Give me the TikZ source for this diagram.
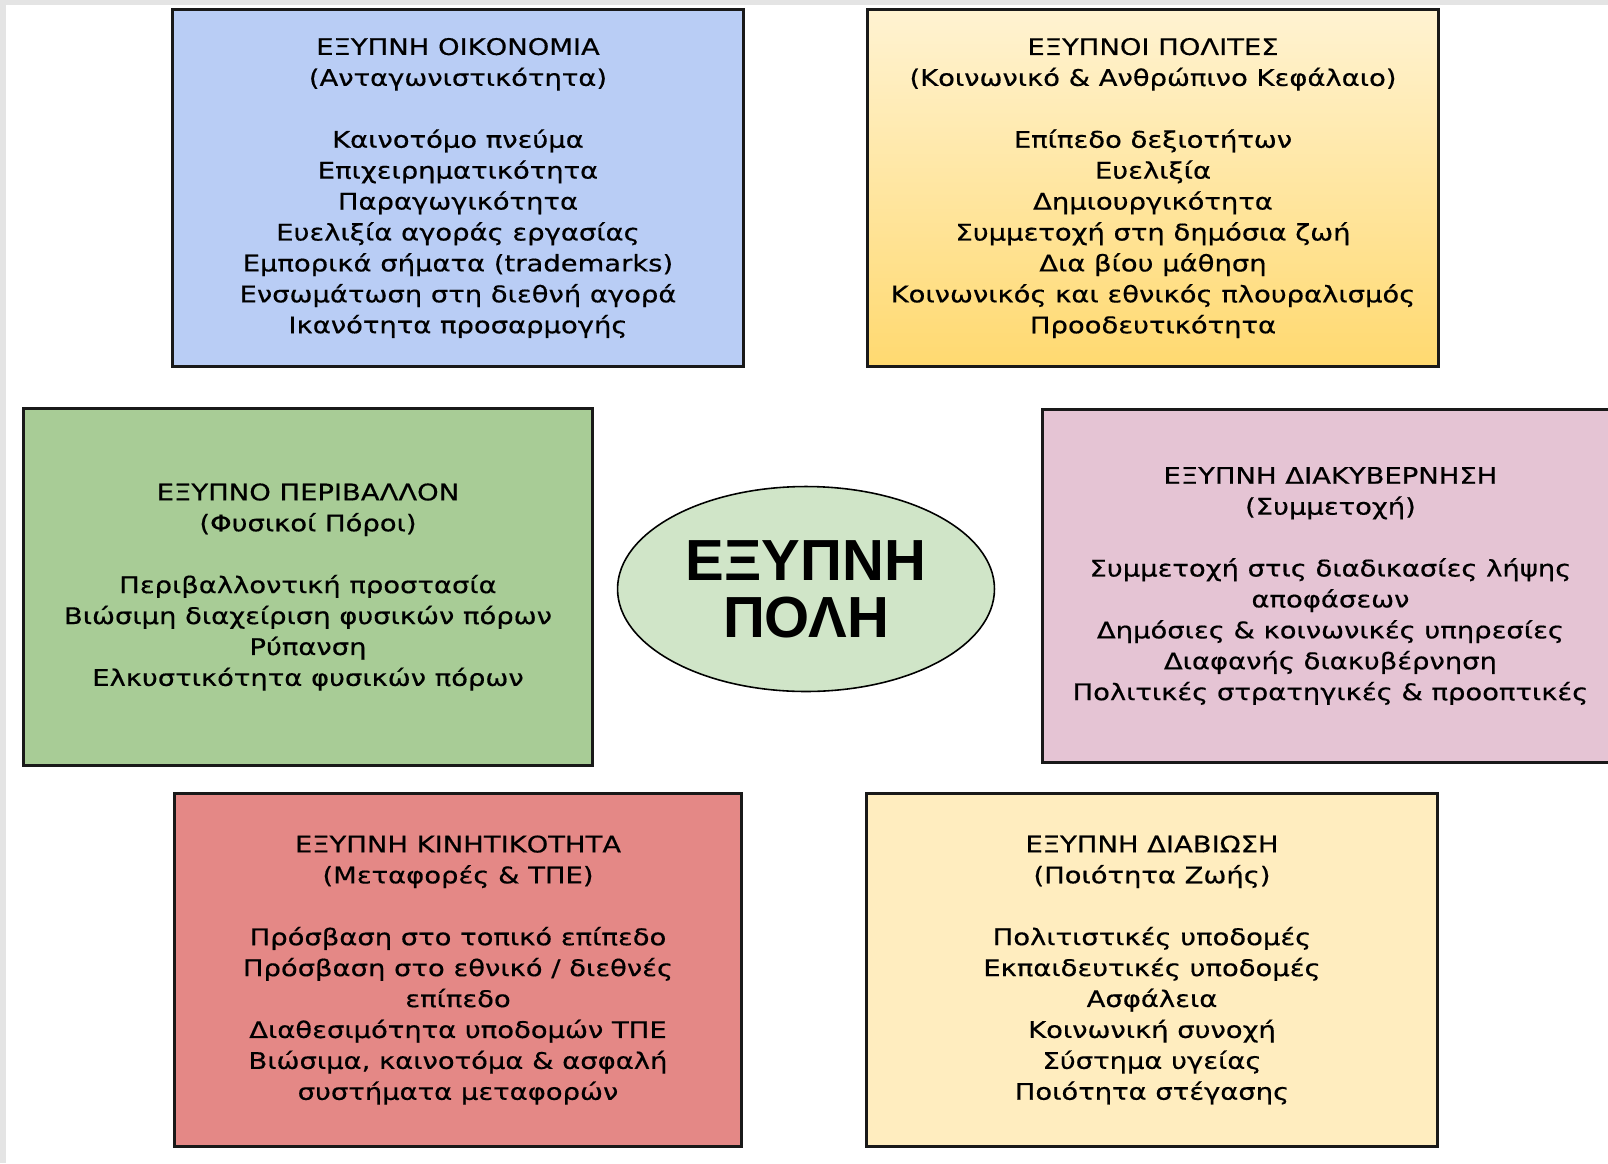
\documentclass[tikz,border=0pt]{standalone}
\usepackage{fontspec}
\setmainfont{Liberation Sans}
\newfontfamily\boxfont{DejaVu Sans}[FakeStretch=1.2, FakeBold=0.5]
\usetikzlibrary{positioning, shapes.geometric}

\definecolor{econblue}{HTML}{B9CDF5}
\definecolor{peoplelight}{HTML}{FFF3D2}
\definecolor{peopledark}{HTML}{FFD970}
\definecolor{envgreen}{HTML}{A8CC96}
\definecolor{govpink}{HTML}{E5C4D4}
\definecolor{mobred}{HTML}{E48886}
\definecolor{liveyellow}{HTML}{FFEDBF}
\definecolor{cityfill}{HTML}{D0E5C8}
\definecolor{framegrey}{HTML}{E4E4E4}

\begin{document}
\begin{tikzpicture}[
    x=0.02cm, y=-0.02cm,
    pillar/.style={draw=black!90, line width=1.7pt, align=center, inner sep=0pt,
        font=\boxfont\fontsize{13}{17.6}\selectfont,
        minimum width=11.44cm, minimum height=7.16cm},
    core/.style={ellipse, draw=black, line width=0.9pt, fill=cityfill, align=center,
        inner sep=0pt, minimum width=7.54cm, minimum height=4.1cm,
        font=\bfseries\fontsize{33}{32.4}\selectfont}
]
    % Page and frame
    \clip (0, 0) rectangle (1608, 1163);
    \fill[framegrey] (0, 0) rectangle (1608, 1163);
    \fill[white] (6, 5) rectangle (1608, 1163);

    % Top row
    \node[pillar, fill=econblue] (economy) at (458, 188) {%
        ΕΞΥΠΝΗ ΟΙΚΟΝΟΜΙΑ\\(Ανταγωνιστικότητα)\\[17.6pt]
        Καινοτόμο πνεύμα\\Επιχειρηματικότητα\\Παραγωγικότητα\\
        Ευελιξία αγοράς εργασίας\\Εμπορικά σήματα (trademarks)\\
        Ενσωμάτωση στη διεθνή αγορά\\Ικανότητα προσαρμογής};
    \node[pillar, top color=peoplelight, bottom color=peopledark] (people) at (1153, 188) {%
        ΕΞΥΠΝΟΙ ΠΟΛΙΤΕΣ\\(Κοινωνικό \& Ανθρώπινο Κεφάλαιο)\\[17.6pt]
        Επίπεδο δεξιοτήτων\\Ευελιξία\\Δημιουργικότητα\\
        Συμμετοχή στη δημόσια ζωή\\Δια βίου μάθηση\\
        Κοινωνικός και εθνικός πλουραλισμός\\Προοδευτικότητα};

    % Middle row
    \node[core] (city) at (806, 589) {ΕΞΥΠΝΗ\\ΠΟΛΗ};
    \node[pillar, fill=envgreen, minimum width=11.4cm] (environment) at (308, 587) {%
        ΕΞΥΠΝΟ ΠΕΡΙΒΑΛΛΟΝ\\(Φυσικοί Πόροι)\\[17.6pt]
        Περιβαλλοντική προστασία\\Βιώσιμη διαχείριση φυσικών πόρων\\
        Ρύπανση\\Ελκυστικότητα φυσικών πόρων};
    \node[pillar, fill=govpink, minimum width=11.52cm, minimum height=7.08cm,
        anchor=west] (governance) at (1041, 586) {%
        ΕΞΥΠΝΗ ΔΙΑΚΥΒΕΡΝΗΣΗ\\(Συμμετοχή)\\[17.6pt]
        Συμμετοχή στις διαδικασίες λήψης\\αποφάσεων\\
        Δημόσιες \& κοινωνικές υπηρεσίες\\Διαφανής διακυβέρνηση\\
        Πολιτικές στρατηγικές \& προοπτικές};

    % Bottom row
    \node[pillar, fill=mobred, minimum width=11.36cm, minimum height=7.08cm] (mobility) at (458, 970) {%
        ΕΞΥΠΝΗ ΚΙΝΗΤΙΚΟΤΗΤΑ\\(Μεταφορές \& ΤΠΕ)\\[17.6pt]
        Πρόσβαση στο τοπικό επίπεδο\\Πρόσβαση στο εθνικό / διεθνές\\
        επίπεδο\\Διαθεσιμότητα υποδομών ΤΠΕ\\
        Βιώσιμα, καινοτόμα \& ασφαλή\\συστήματα μεταφορών};
    \node[pillar, fill=liveyellow, minimum height=7.08cm] (living) at (1152, 970) {%
        ΕΞΥΠΝΗ ΔΙΑΒΙΩΣΗ\\(Ποιότητα Ζωής)\\[17.6pt]
        Πολιτιστικές υποδομές\\Εκπαιδευτικές υποδομές\\Ασφάλεια\\
        Κοινωνική συνοχή\\Σύστημα υγείας\\Ποιότητα στέγασης};
\end{tikzpicture}
\end{document}
